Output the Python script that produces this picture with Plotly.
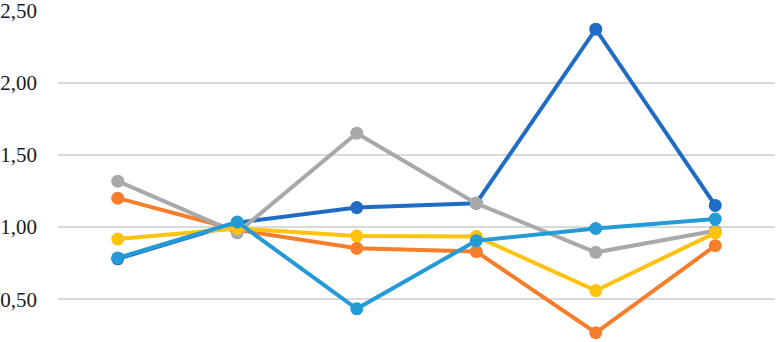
import plotly.graph_objects as go

categories = ["1", "2", "3", "4", "5", "6"]
series_dark_blue = [0.78, 1.03, 1.135, 1.165, 2.37, 1.15]
series_orange = [1.20, 0.98, 0.853, 0.83, 0.268, 0.871]
series_gray = [1.318, 0.96, 1.65, 1.164, 0.825, 0.975]
series_yellow = [0.917, 0.99, 0.938, 0.935, 0.56, 0.96]
series_light_blue = [0.786, 1.035, 0.434, 0.905, 0.99, 1.055]
y_ticks = [0.5, 1.0, 1.5, 2.0, 2.5]

series = [
    (series_dark_blue, "#1F6CC4"),
    (series_orange, "#F57E2C"),
    (series_gray, "#A9A9A9"),
    (series_yellow, "#FFC20E"),
    (series_light_blue, "#249BD7"),
]

fig = go.Figure()
for vals, col in series:
    fig.add_trace(go.Scatter(
        x=categories, y=vals, mode="lines+markers",
        line=dict(color=col, width=4),
        marker=dict(color=col, size=13),
        cliponaxis=False, showlegend=False,
    ))

fig.update_layout(
    width=776, height=342,
    margin=dict(l=58, r=1, t=10, b=0),
    paper_bgcolor="white", plot_bgcolor="white",
    separators=",.",
    font=dict(family="Liberation Serif, Times New Roman, serif", size=21, color="#1a1a1a"),
    xaxis=dict(type="category", range=[-0.5, 5.5], showticklabels=False,
               showgrid=False, zeroline=False, showline=False, ticks=""),
    yaxis=dict(range=[0.204, 2.503], tickvals=y_ticks, tickformat=".2f",
               automargin=False, ticklabeloverflow="allow",
               showgrid=True, gridcolor="#D9D9D9", gridwidth=1.5,
               zeroline=False, showline=False, ticks="", ticklabelstandoff=20),
)

fig.write_html("out.html", config={"displayModeBar": False},
               post_script="document.body.style.margin='0';document.body.style.overflow='hidden';")
